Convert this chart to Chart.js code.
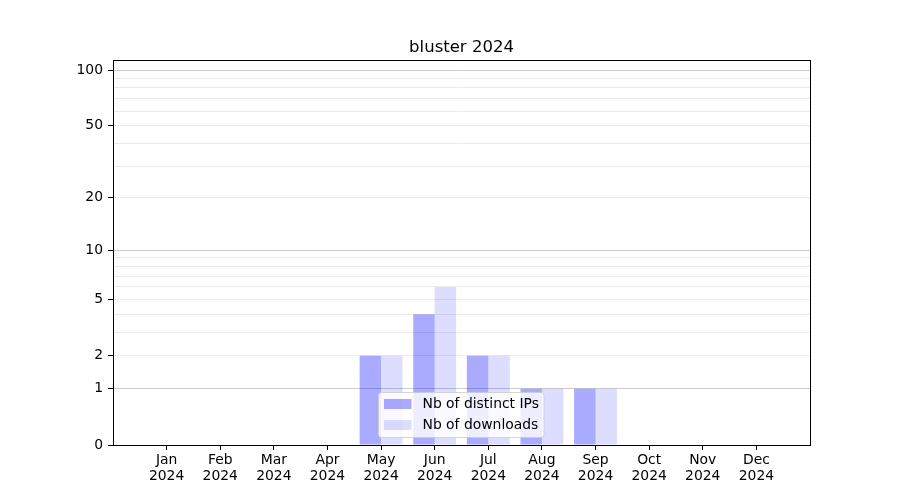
<!DOCTYPE html>
<html>
<head>
<meta charset="utf-8">
<script src="https://cdn.jsdelivr.net/npm/chart.js@4/dist/chart.umd.min.js"></script>
<style>
  html, body { margin: 0; padding: 0; background: #fff; }
  #wrap { width: 900px; height: 500px; }
</style>
</head>
<body>
<div id="wrap"><canvas id="c" width="900" height="500"></canvas></div>
<script>
// ---- data ----
const chartTitle = 'bluster 2024';
const monthLabels = ['Jan','Feb','Mar','Apr','May','Jun','Jul','Aug','Sep','Oct','Nov','Dec'];
const yearLabel = '2024';
const distinctIPs = [0, 0, 0, 0, 2, 4, 2, 1, 1, 0, 0, 0];
const downloads   = [0, 0, 0, 0, 2, 6, 2, 1, 1, 0, 0, 0];
const seriesNames = ['Nb of distinct IPs', 'Nb of downloads'];
const yTickValues = [0, 1, 2, 5, 10, 20, 50, 100];
const yMinorValues = [3, 4, 6, 7, 8, 9, 30, 40, 60, 70, 80, 90];
const yMajorGrid = [1, 10, 100];
const yMax = 113.3;

const FONT = 'DejaVu Sans';
const FS = 13.9;

// ---- custom log(1+x) scale ----
class Log1pScale extends Chart.LinearScale {
  buildTicks() {
    const vals = [...yTickValues, ...yMinorValues].sort((a, b) => a - b);
    return vals.filter(v => v >= this.min && v <= this.max).map(v => ({ value: v }));
  }
  configure() {
    Chart.Scale.prototype.configure.call(this);
    this._startValue = Math.log10(this.min + 1);
    this._endValue = Math.log10(this.max + 1);
    this._valueRange = this._endValue - this._startValue;
  }
  getPixelForValue(v) {
    if (v === null || v === undefined || isNaN(v)) return NaN;
    return this.getPixelForDecimal((Math.log10(v + 1) - this._startValue) / this._valueRange);
  }
  getValueForPixel(p) {
    return Math.pow(10, this._startValue + this.getDecimalForPixel(p) * this._valueRange) - 1;
  }
}
Log1pScale.id = 'log1p';
Log1pScale.defaults = Chart.LinearScale.defaults;
Chart.register(Log1pScale);

const toPoints = arr => arr.map((v, i) => ({ x: i, y: v }));

// ---- plugins ----
const framePlugin = {
  id: 'frame',
  afterDraw(chart) {
    const { ctx, chartArea: a } = chart;
    ctx.save();
    // title
    ctx.fillStyle = '#000';
    ctx.font = '16.5px "' + FONT + '"';
    ctx.textAlign = 'center';
    ctx.textBaseline = 'alphabetic';
    ctx.fillText(chartTitle, (a.left + a.right) / 2, 52);
    // frame
    ctx.strokeStyle = '#000';
    ctx.lineWidth = 1;
    ctx.strokeRect(Math.round(a.left) + 0.5, Math.round(a.top) + 0.5,
                   Math.round(a.right - a.left), Math.round(a.bottom - a.top));
    // legend
    const ds = chart.data.datasets;
    const bx = 378.5, by = 392.5, bw = 165.5, bh = 45;
    ctx.beginPath();
    ctx.roundRect(bx, by, bw, bh, 3);
    ctx.fillStyle = 'rgba(255,255,255,0.8)';
    ctx.fill();
    ctx.strokeStyle = 'rgba(204,204,204,0.8)';
    ctx.stroke();
    ctx.font = FS + 'px "' + FONT + '"';
    ctx.textAlign = 'left';
    ctx.textBaseline = 'middle';
    const rows = [404, 425];
    ds.forEach((d, i) => {
      ctx.fillStyle = d.backgroundColor;
      ctx.fillRect(384, rows[i] - 5, 27.5, 10);
      ctx.fillStyle = '#000';
      ctx.fillText(d.label, 422.5, rows[i]);
    });
    ctx.restore();
  }
};

new Chart(document.getElementById('c'), {
  type: 'bar',
  data: {
    datasets: [
      { label: seriesNames[0], data: toPoints(distinctIPs), backgroundColor: 'rgba(0,0,255,0.333)', borderWidth: 0 },
      { label: seriesNames[1], data: toPoints(downloads), backgroundColor: 'rgba(0,0,255,0.135)', borderWidth: 0 }
    ]
  },
  plugins: [framePlugin],
  options: {
    responsive: false,
    animation: false,
    devicePixelRatio: 1,
    layout: { padding: { top: 60, right: 90, left: 0, bottom: 0 } },
    datasets: { bar: { categoryPercentage: 0.8, barPercentage: 1.0, grouped: true } },
    plugins: { legend: { display: false }, title: { display: false }, tooltip: { enabled: false } },
    scales: {
      x: {
        type: 'linear',
        min: -1,
        max: 12,
        offset: false,
        afterBuildTicks: s => { s.ticks = monthLabels.map((_, i) => ({ value: i })); },
        afterFit: s => { s.height = 55; },
        border: { display: false },
        grid: { offset: false, drawOnChartArea: false, drawTicks: true, tickLength: 5, tickColor: '#000', tickWidth: 1 },
        ticks: {
          autoSkip: false, maxRotation: 0, minRotation: 0, padding: 2,
          color: '#000', font: { family: FONT, size: FS, lineHeight: 1.15 },
          callback: v => [monthLabels[v], yearLabel]
        }
      },
      y: {
        type: 'log1p',
        min: 0,
        max: yMax,
        afterFit: s => { s.width = 113; },
        border: { display: false },
        grid: {
          color: c => c.tick.value === 0 ? 'rgba(0,0,0,0)' : (yMajorGrid.includes(c.tick.value) ? '#cccccc' : '#ebebeb'),
          lineWidth: 1,
          tickLength: 5,
          tickWidth: 1,
          tickColor: c => yTickValues.includes(c.tick.value) ? '#000' : 'rgba(0,0,0,0)'
        },
        ticks: {
          autoSkip: false, padding: 5,
          color: '#000', font: { family: FONT, size: FS },
          callback: v => yTickValues.includes(v) ? String(v) : ''
        }
      }
    }
  }
});
</script>
</body>
</html>
